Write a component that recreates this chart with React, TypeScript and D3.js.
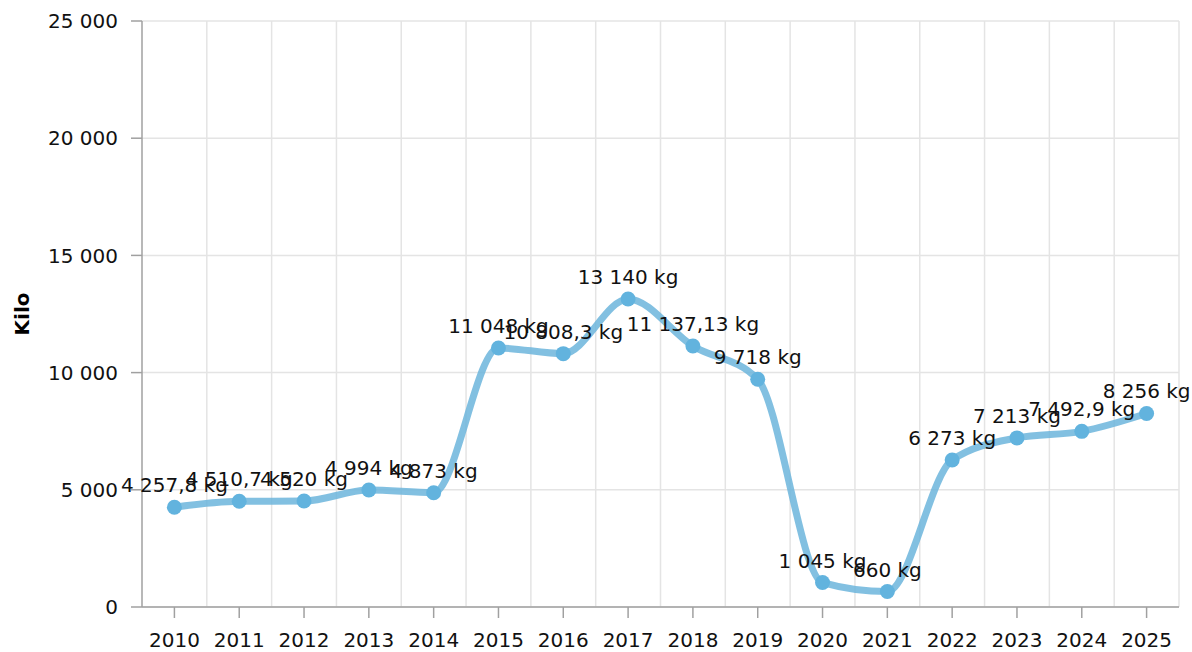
import React from "react";
import * as d3 from "d3";

const years = ["2010","2011","2012","2013","2014","2015","2016","2017","2018","2019","2020","2021","2022","2023","2024","2025"];
const kilos = [4257.8, 4510.7, 4520, 4994, 4873, 11048, 10808.3, 13140, 11137.13, 9718, 1045, 660, 6273, 7213, 7492.9, 8256];
const yTicks = [0, 5000, 10000, 15000, 20000, 25000];
const yTitle = "Kilo";
const unit = "kg";

const W = 1192, H = 652;
const M = { left: 142, right: 1179, top: 21, bottom: 607 };
const FONT = "'DejaVu Sans', Verdana, sans-serif";

const loc = d3.formatLocale({ decimal: ",", thousands: "\u00a0", grouping: [3], currency: ["", ""] });
const fmtTick = loc.format(",d");
const fmtVal = loc.format(",.2~f");

export default function App() {
  const x = d3.scaleBand().domain(years).range([M.left, M.right]).paddingInner(0).paddingOuter(0);
  const y = d3.scaleLinear().domain([0, 25000]).range([M.bottom, M.top]);
  const cx = (i: number) => (x(years[i]) as number) + x.bandwidth() / 2;
  const line = d3.line<number>().x((_, i) => cx(i)).y(d => y(d)).curve(d3.curveMonotoneX);
  const bounds = years.map(yr => (x(yr) as number) + x.bandwidth());

  return (
    <svg width={W} height={H} style={{ position: "absolute", left: 0, top: 0, background: "#fff" }} fontFamily={FONT}>
      {yTicks.map(t => (
        <line key={"h" + t} x1={M.left} x2={M.right} y1={y(t)} y2={y(t)} stroke="#e4e4e4" strokeWidth={1.5} />
      ))}
      {bounds.map((b, i) => (
        <line key={"v" + i} x1={b} x2={b} y1={M.top} y2={M.bottom} stroke="#e4e4e4" strokeWidth={1.5} />
      ))}
      <line x1={M.left} x2={M.left} y1={M.top} y2={M.bottom} stroke="#a0a0a0" strokeWidth={1.5} />
      {yTicks.map(t => (
        <g key={"yt" + t}>
          <line x1={M.left - 11} x2={M.left} y1={y(t)} y2={y(t)} stroke="#a0a0a0" strokeWidth={1.5} />
          <text x={M.left - 24} y={y(t)} dy="0.36em" textAnchor="end" fontSize={20} fill="#111">{fmtTick(t)}</text>
        </g>
      ))}
      <text transform={`translate(29,${(M.top + M.bottom) / 2}) rotate(-90)`} textAnchor="middle" fontSize={20} fontWeight="bold" fill="#000">{yTitle}</text>
      <line x1={M.left} x2={M.right} y1={M.bottom} y2={M.bottom} stroke="#a0a0a0" strokeWidth={1.5} />
      {years.map((yr, i) => (
        <g key={"xt" + yr}>
          <line x1={cx(i)} x2={cx(i)} y1={M.bottom} y2={M.bottom + 11} stroke="#a0a0a0" strokeWidth={1.5} />
          <text x={cx(i)} y={647} textAnchor="middle" fontSize={20} fill="#111">{yr}</text>
        </g>
      ))}
      <path d={line(kilos) as string} fill="none" stroke="#6cb5dc" strokeOpacity={0.85} strokeWidth={7} strokeLinecap="round" strokeLinejoin="round" />
      {kilos.map((v, i) => (
        <circle key={"c" + i} cx={cx(i)} cy={y(v)} r={7.5} fill="#62b3de" />
      ))}
      {kilos.map((v, i) => (
        <text key={"l" + i} x={cx(i)} y={y(v) - 15} textAnchor="middle" fontSize={20} fill="#111">{`${fmtVal(v)} ${unit}`}</text>
      ))}
    </svg>
  );
}
